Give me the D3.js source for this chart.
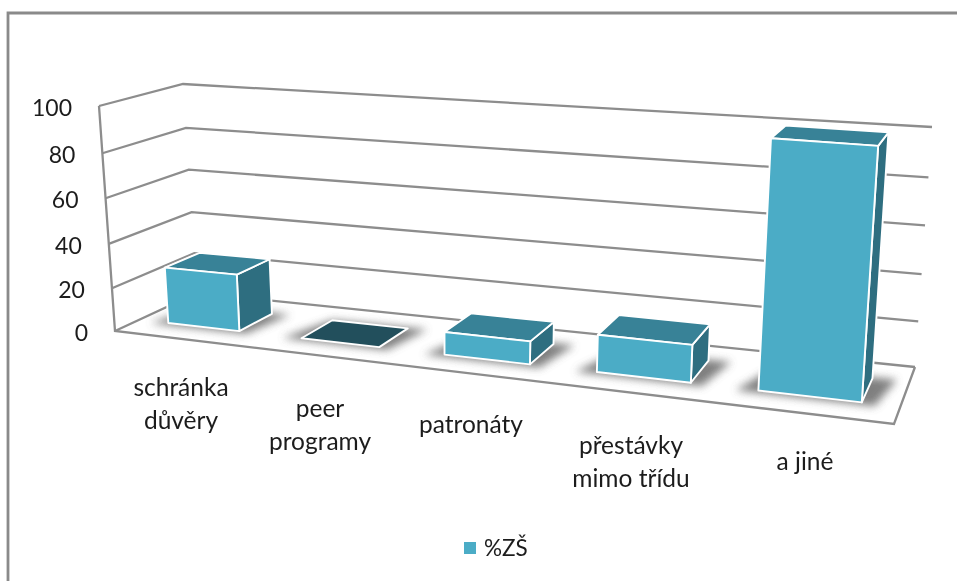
<!DOCTYPE html>
<html><head><meta charset="utf-8">
<style>html,body{margin:0;padding:0;background:#fff;overflow:hidden}text{font-family:Lato,"Open Sans",sans-serif;fill:#1c1c1c}</style>
<script src="https://cdn.jsdelivr.net/npm/d3@7"></script>
</head><body><svg id="c" width="957" height="581"></svg>
<script>
// Data
const categories = [["schránka","důvěry"],["peer","programy"],["patronáty"],["přestávky","mimo třídu"],["a jiné"]];
const values = [26, 0, 10, 16, 100];
const tickValues = [0, 20, 40, 60, 80, 100];
const seriesName = "%ZŠ";

// Layout of the 3D box (projected corners)
const floorFL=[115,331], floorFR=[894,424], floorBR=[915,367], floorBL=[197,293];
const upFL=[-16,-225], upBL=[-14,-209], upBR=[17,-240], upFR=[18,-265];
const labelLayout=[[181,396],[320,417],[471,433],[631,454],[805,470]];
const colors={front:"#4bacc6",top:"#378297",side:"#2f6e80",zero:"#23505c",grid:"#8d8d8d"};

function homography(p0,p1,p2,p3){
  const dx1=p1[0]-p2[0],dx2=p3[0]-p2[0],sx=p0[0]-p1[0]+p2[0]-p3[0];
  const dy1=p1[1]-p2[1],dy2=p3[1]-p2[1],sy=p0[1]-p1[1]+p2[1]-p3[1];
  const D=dx1*dy2-dx2*dy1, g=(sx*dy2-dx2*sy)/D, h=(dx1*sy-sx*dy1)/D;
  const a=p1[0]-p0[0]+g*p1[0], b=p3[0]-p0[0]+h*p3[0], d=p1[1]-p0[1]+g*p1[1], e=p3[1]-p0[1]+h*p3[1];
  return (u,v)=>{const w=g*u+h*v+1;return [(a*u+b*v+p0[0])/w,(d*u+e*v+p0[1])/w];};
}
const floor=homography(floorFL,floorFR,floorBR,floorBL);
const yScale=d3.scaleLinear().domain(tickValues).range([0,.19,.387,.59,.79,1]);
const xBand=d3.scaleBand().domain(d3.range(categories.length)).range([0,1]).paddingInner(.435).paddingOuter(.2175);
const warp=d3.scaleLinear().domain([0,.1,.3,.5,.7,.9,1]).range([0,.104,.3115,.515,.7125,.903,1]);
const depth=d3.scaleLinear().domain([0,1]).range([.28,.71]);
function P(u,v,val){
  const f=floor(u,v), t=yScale(val);
  const ux=(1-v)*((1-u)*upFL[0]+u*upFR[0])+v*((1-u)*upBL[0]+u*upBR[0]);
  const uy=(1-v)*((1-u)*upFL[1]+u*upFR[1])+v*((1-u)*upBL[1]+u*upBR[1]);
  return [f[0]+ux*t,f[1]+uy*t];
}
const svg=d3.select("#c");
const defs=svg.append("defs");
defs.append("filter").attr("id","soft").attr("x","-5%").attr("y","-5%").attr("width","110%").attr("height","110%")
  .append("feGaussianBlur").attr("stdDeviation",.65);
defs.append("filter").attr("id","shadow").attr("x","-40%").attr("y","-60%").attr("width","180%").attr("height","220%")
  .append("feGaussianBlur").attr("stdDeviation",4.5);

const root=svg.append("g").attr("filter","url(#soft)");
const line=d3.line();
// frame
root.append("path").attr("d","M8,600V13H970").attr("fill","none").attr("stroke","#8a8a8a").attr("stroke-width",2.8);
const lineStyle=s=>s.attr("fill","none").attr("stroke",colors.grid).attr("stroke-width",2.3);
// wall gridlines
root.selectAll("path.grid").data(tickValues).join("path").attr("class","grid").call(lineStyle)
  .attr("d",t=>line([P(0,0,t),P(0,1,t),P(1,1,t)]));
// left edge and floor outline
root.append("path").call(lineStyle).attr("d",line([P(0,0,100),P(0,0,0),P(1,0,0),P(1,1,0)]));

// tick labels
root.selectAll("text.tick").data(tickValues).join("text").attr("class","tick")
  .attr("text-anchor","end").attr("font-size",23)
  .attr("x",t=>P(0,0,t)[0]-27).attr("y",t=>P(0,0,t)[1]+10).text(d=>d);

// bars
const bars=root.selectAll("g.bar").data(values).join("g").attr("class","bar");
bars.each(function(val,i){
  const g=d3.select(this);
  const c=warp(xBand(i)+xBand.bandwidth()/2), u0=c-xBand.bandwidth()/2, u1=c+xBand.bandwidth()/2, v0=depth(0), v1=depth(1);
  const poly=pts=>line(pts)+"Z";
  const pad=.012;
  g.append("path").attr("d",poly([P(u0-pad*2,v0-.04,0),P(u1+pad*1.2,v0-.04,0),P(u1+pad*2.2,v1+.02,0),P(u0,v1,0)]))
    .attr("fill","#555").attr("opacity",.75).attr("filter","url(#shadow)");
  const face=(pts,fill)=>g.append("path").attr("d",poly(pts)).attr("fill",fill).attr("stroke","#fff").attr("stroke-width",1.9).attr("stroke-linejoin","round");
  if(val>0){
    face([P(u1,v0,0),P(u1,v1,0),P(u1,v1,val),P(u1,v0,val)],colors.side);
    face([P(u0,v0,val),P(u1,v0,val),P(u1,v1,val),P(u0,v1,val)],colors.top);
    face([P(u0,v0,0),P(u1,v0,0),P(u1,v0,val),P(u0,v0,val)],colors.front);
  } else {
    face([P(u0,v0,0),P(u1,v0,0),P(u1,v1,0),P(u0,v1,0)],colors.zero);
  }
});

// category labels
categories.forEach((lines,i)=>{
  const t=root.append("text").attr("text-anchor","middle").attr("font-size",24.5);
  lines.forEach((s,k)=>t.append("tspan").attr("x",labelLayout[i][0]).attr("y",labelLayout[i][1]+k*33).text(s));
});
// legend
root.append("rect").attr("x",464).attr("y",542).attr("width",12).attr("height",12).attr("fill",colors.front);
root.append("text").attr("x",484).attr("y",556).attr("font-size",22.5).text(seriesName);
</script></body></html>
